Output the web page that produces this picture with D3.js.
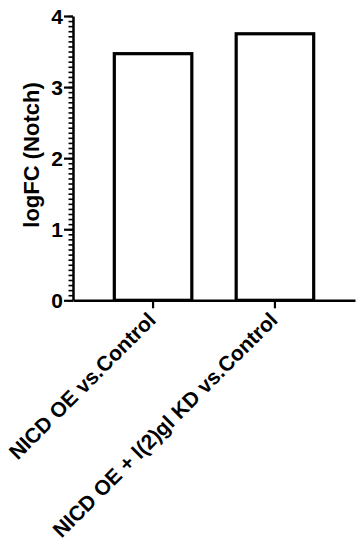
<!DOCTYPE html>
<html>
<head>
<meta charset="utf-8">
<script src="https://cdn.jsdelivr.net/npm/d3@7/dist/d3.min.js"></script>
<style>
  html, body { margin: 0; padding: 0; background: #fff; }
  svg { display: block; }
  text { font-family: "Liberation Sans", Arial, sans-serif; font-weight: bold; fill: #000; }
</style>
</head>
<body>
<svg id="chart" width="363" height="550"></svg>
<script>
const categories = ["NICD OE vs.Control", "NICD OE + l(2)gl KD vs.Control"];
const values = [3.47, 3.75];
const yTicks = [0, 1, 2, 3, 4];
const yLabel = "logFC (Notch)";

const svg = d3.select("#chart");
const x0 = 73, x1 = 355, yBottom = 300.3, yTop = 16;

const x = d3.scaleBand().domain(categories).range([x0, x1])
  .paddingInner(0.364).paddingOuter(0.339);
const y = d3.scaleLinear().domain([0, 4]).range([yBottom, yTop]);

// minor ticks
const minor = d3.range(0, 4.0001, 1 / 14);
const gMinor = svg.append("g").attr("transform", `translate(${x0},0)`)
  .call(d3.axisLeft(y).tickValues(minor).tickSize(4.5).tickFormat(""));
gMinor.select(".domain").remove();
gMinor.selectAll("line").attr("stroke", "#000").attr("stroke-width", 1.6);

// major y axis
const gy = svg.append("g").attr("transform", `translate(${x0},0)`)
  .call(d3.axisLeft(y).tickValues(yTicks).tickSize(9).tickSizeOuter(0).tickPadding(1).tickFormat(d3.format("d")));
gy.select(".domain").attr("stroke", "#000").attr("stroke-width", 2.5);
gy.selectAll(".tick line").attr("stroke", "#000").attr("stroke-width", 2.2);
gy.selectAll(".tick text").style("font-size", "21px").attr("dy", "0.36em");

// bars
svg.append("g").selectAll("rect").data(values).join("rect")
  .attr("x", (d, i) => x(categories[i]))
  .attr("y", d => y(d))
  .attr("width", x.bandwidth())
  .attr("height", d => y(0) - y(d))
  .attr("fill", "#fff")
  .attr("stroke", "#000")
  .attr("stroke-width", 3.2);

// x axis
const gx = svg.append("g").attr("transform", `translate(0,${yBottom})`)
  .call(d3.axisBottom(x).tickSize(8).tickSizeOuter(0));
gx.select(".domain").attr("stroke", "#000").attr("stroke-width", 2.5);
gx.selectAll(".tick line").attr("stroke", "#000").attr("stroke-width", 2.2);
gx.selectAll(".tick text")
  .style("font-size", "21px")
  .attr("text-anchor", "end")
  .attr("dy", 0)
  .attr("y", 0)
  .attr("transform", "translate(4,21) rotate(-45)");

// y label
svg.append("text")
  .attr("transform", `translate(39,155) rotate(-90)`)
  .attr("text-anchor", "middle")
  .style("font-size", "22px")
  .text(yLabel);
</script>
</body>
</html>
